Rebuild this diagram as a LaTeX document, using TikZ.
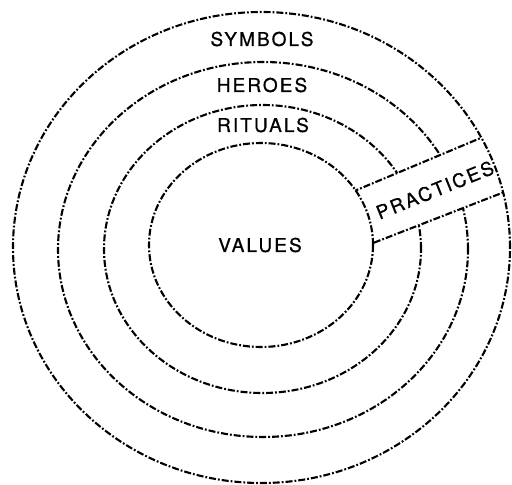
\documentclass[tikz,border=0pt]{standalone}
\usepackage{fontspec}
\setmainfont{TeX Gyre Heros}
\begin{document}
\begin{tikzpicture}[x=1pt,y=-1pt,
  ring/.style={line width=2.1pt,dash pattern=on 7pt off 2pt on 1.8pt off 2pt},
  lbl/.style={font=\fontsize{19}{21}\selectfont\addfontfeatures{LetterSpace=11,FakeBold=0.8},inner sep=0pt}]
\useasboundingbox (0,0) rectangle (512,485);
% values and outer rings
\draw[ring] (261,245) ellipse [x radius=112pt, y radius=102pt];
\draw[ring] (261.5,247.5) ellipse [x radius=248.5pt, y radius=235.5pt];
% heroes and rituals rings, cut by the band
\begin{scope}[even odd rule]
  \clip (-10,-10) rectangle (530,500)
        (340,197) -- (530,117.3) -- (535,180.1) -- (350,252) -- cycle;
  \draw[ring] (263,249.5) ellipse [x radius=205pt, y radius=187.5pt];
  \draw[ring] (262.5,249) ellipse [x radius=158.5pt, y radius=144pt];
\end{scope}
% band edges, between values ring and outer ring
\begin{scope}[even odd rule]
  \clip (261.5,247.5) ellipse [x radius=248.5pt, y radius=235.5pt]
        (261,245) ellipse [x radius=112pt, y radius=102pt];
  \coordinate (u1) at (340,197);
  \coordinate (u2) at (530,117.3);
  \coordinate (l1) at (350,252);
  \coordinate (l2) at (535,180.1);
  \draw[ring] (u1) -- (u2);
  \draw[ring] (l1) -- (l2);
\end{scope}
\node[lbl] (symbols) at (262,39) {SYMBOLS};
\node[lbl] (heroes) at (262,85) {HEROES};
\node[lbl] (rituals) at (263,125) {RITUALS};
\node[lbl] (values) at (260,245) {VALUES};
\node[lbl,rotate=22] (practices) at (435,190) {PRACTICES};
\end{tikzpicture}
\end{document}
